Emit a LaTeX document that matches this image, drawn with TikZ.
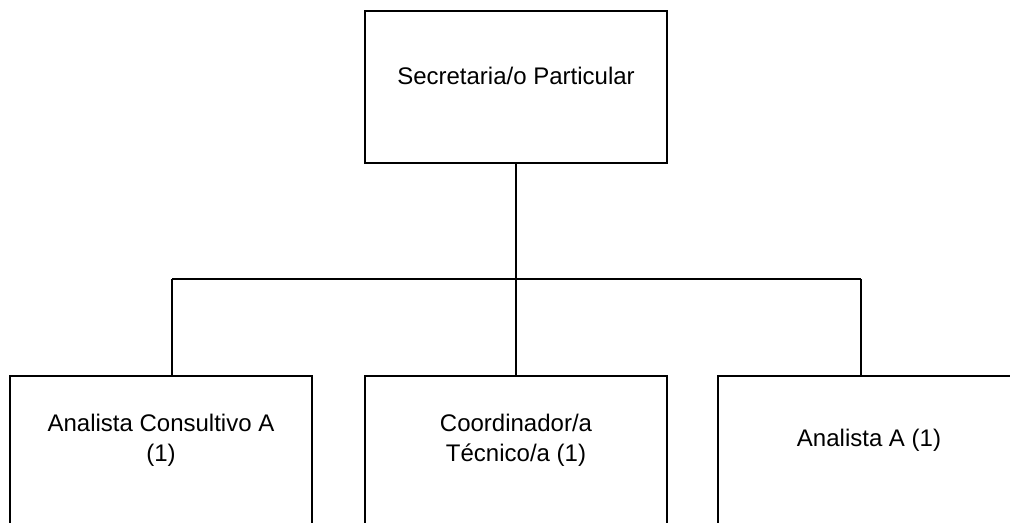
\documentclass[tikz,border=0pt]{standalone}
\usepackage{fontspec}
\setmainfont{Liberation Sans}

\begin{document}
\begin{tikzpicture}[x=0.75pt, y=-0.75pt,
  box/.style={draw, line width=1.2pt, inner sep=0pt, minimum width=226.5pt},
  link/.style={line width=0.9pt},
  txt/.style={font=\fontsize{18}{22.5}\selectfont, align=center}]
\useasboundingbox (0,0) rectangle (1010,523);
\clip (0,0) rectangle (1010,523);

\node[box, minimum height=114pt] (sec) at (516,87) {};
\node[txt] (secT) at (516,76) {Secretaria/o Particular};

\node[box, minimum height=120pt] (ana) at (161,456) {};
\node[txt] (anaT) at (161,440) {Analista Consultivo A\\(1)};

\node[box, minimum height=120pt] (coo) at (516,456) {};
\node[txt] (cooT) at (516,440) {Coordinador/a\\Técnico/a (1)};

\node[box, minimum height=120pt] (an) at (869,456) {};
\node[txt] (anT) at (869,440) {Analista A (1)};

\coordinate (busL) at (172,279);
\coordinate (busM) at (516,279);
\coordinate (busR) at (861,279);

\draw[link] (sec.south) -- (busM);
\draw[link] (busL) -- (busR);
\draw[link] (busL) -- (busL |- ana.north);
\draw[link] (busM) -- (coo.north);
\draw[link] (busR) -- (busR |- an.north);
\end{tikzpicture}
\end{document}
